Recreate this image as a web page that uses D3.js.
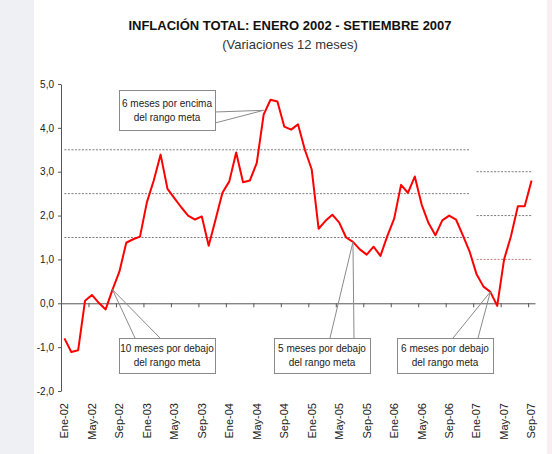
<!DOCTYPE html>
<html>
<head>
<meta charset="utf-8">
<script src="https://cdn.jsdelivr.net/npm/d3@7"></script>
<style>
  body { margin: 0; background: #f2f3f6; }
  svg { display: block; font-family: "Liberation Sans", Arial, sans-serif; }
</style>
</head>
<body>
<div class="visHolder"></div>
<script>
// Data: inflation (12-month change), Jan 2002 - Sep 2007
const monthNames = ["Ene", "Feb", "Mar", "Abr", "May", "Jun", "Jul", "Ago", "Sep", "Oct", "Nov", "Dic"];
const years = ["02", "03", "04", "05", "06", "07"];
const inflation = [
  -0.80, -1.11, -1.07, 0.06, 0.19, 0.01, -0.14, 0.31, 0.72, 1.38, 1.46, 1.52,
  2.30, 2.80, 3.39, 2.61, 2.40, 2.19, 2.00, 1.91, 1.98, 1.31, 1.91, 2.52,
  2.78, 3.44, 2.76, 2.80, 3.20, 4.30, 4.64, 4.60, 4.03, 3.96, 4.08, 3.50,
  3.05, 1.70, 1.88, 2.02, 1.84, 1.50, 1.40, 1.23, 1.11, 1.29, 1.08, 1.53,
  1.93, 2.70, 2.52, 2.89, 2.25, 1.83, 1.55, 1.89, 2.00, 1.91, 1.55, 1.17,
  0.66, 0.38, 0.26, -0.06, 1.00, 1.53, 2.21, 2.21, 2.80
];
const tickLabels = ["Ene-02", "May-02", "Sep-02", "Ene-03", "May-03", "Sep-03", "Ene-04", "May-04",
  "Sep-04", "Ene-05", "May-05", "Sep-05", "Ene-06", "May-06", "Sep-06", "Ene-07", "May-07", "Sep-07"];
const yTicks = [-2, -1, 0, 1, 2, 3, 4, 5];

// Target range lines (lower, center, upper)
const target1 = { from: "Ene-02", to: "Dic-06", levels: [1.5, 2.5, 3.5] };
const target2 = { from: "Ene-07", to: "Sep-07", levels: [1.0, 2.0, 3.0] };

// Callouts: text and the month they point to
const notes = [
  { lines: ["6 meses por encima", "del rango meta"], month: "Jun-04", value: 4.4 },
  { lines: ["10 meses por debajo", "del rango meta"], month: "Ago-02", value: 0.31 },
  { lines: ["5 meses por debajo", "del rango meta"], month: "Jul-05", value: 1.40 },
  { lines: ["6 meses por debajo", "del rango meta"], month: "Mar-07", value: 0.26 }
];

const months = [];
years.forEach((y) => monthNames.forEach((m) => months.push(`${m}-${y}`)));
months.splice(inflation.length);

const width = 552;
const height = 454;

const svg = d3
  .select(".visHolder")
  .append("svg")
  .attr("width", width)
  .attr("height", height);

// Background: pale strips on the sides, white panel
svg.append("rect").attr("width", width).attr("height", height).attr("fill", "#eef0f3");
svg.append("rect").attr("x", 546).attr("width", 6).attr("height", height).attr("fill", "#fbeef0");
svg.append("rect").attr("x", 34).attr("y", 0).attr("width", 513).attr("height", height).attr("fill", "#ffffff");

// Scales
const x = d3.scaleBand().domain(months).range([61, 535]).padding(0);
const xIdx = d3.scaleLinear().domain([0, months.length]).range([61, 535]);
const y = d3.scaleLinear().domain([-2, 5]).range([391, 84]);
const cx = (m) => x(m) + x.bandwidth() / 2;

// Titles
svg
  .append("text")
  .attr("x", 290)
  .attr("y", 30)
  .attr("text-anchor", "middle")
  .style("font-size", "13px")
  .style("font-weight", "bold")
  .attr("fill", "#111")
  .text("INFLACIÓN TOTAL: ENERO 2002 - SETIEMBRE 2007");

svg
  .append("text")
  .attr("x", 290)
  .attr("y", 49)
  .attr("text-anchor", "middle")
  .style("font-size", "13px")
  .attr("fill", "#333")
  .text("(Variaciones 12 meses)");

// Target range dotted lines
function drawTarget(t) {
  const span = months.slice(months.indexOf(t.from), months.indexOf(t.to) + 1);
  t.levels.forEach((lv, k) => {
    const line = d3.line().x((m) => cx(m)).y(() => y(lv));
    svg
      .append("path")
      .datum(span)
      .attr("d", line)
      .attr("fill", "none")
      .attr("stroke", t === target2 && k === 0 ? "#c98080" : "#7a7a7a")
      .attr("stroke-width", 1)
      .attr("stroke-dasharray", "2,1.5");
  });
}
drawTarget(target1);
drawTarget(target2);

// Y axis
const yAxis = svg
  .append("g")
  .attr("transform", "translate(61,0)")
  .call(
    d3.axisLeft(y)
      .tickValues(yTicks)
      .tickSize(3)
      .tickSizeOuter(0)
      .tickFormat((d) => d.toFixed(1).replace(".", ","))
  );
yAxis.select(".domain").attr("stroke", "#555");
yAxis.selectAll(".tick line").attr("stroke", "#555");
yAxis.selectAll("text").attr("fill", "#222").style("font-size", "10px").attr("x", -7);

// X axis line at zero with ticks between categories
const xAxis = svg
  .append("g")
  .attr("transform", `translate(0,${y(0)})`)
  .call(
    d3.axisBottom(xIdx)
      .tickValues(d3.range(4, months.length, 4))
      .tickSize(4)
      .tickSizeOuter(0)
      .tickFormat("")
  );
xAxis.select(".domain").attr("stroke", "#555");
xAxis.selectAll(".tick line").attr("stroke", "#555");

// Month labels at the bottom
const xLabels = svg
  .append("g")
  .attr("transform", "translate(0,400)")
  .call(d3.axisBottom(x).tickValues(tickLabels).tickSize(0));
xLabels.select(".domain").remove();
xLabels
  .selectAll("text")
  .attr("transform", "rotate(-90)")
  .attr("x", -3)
  .attr("y", 0)
  .attr("dy", "0.35em")
  .attr("text-anchor", "end")
  .attr("fill", "#222")
  .style("font-size", "11px");

// Inflation line
const line = d3
  .line()
  .x((d, i) => cx(months[i]))
  .y((d) => y(d));

svg
  .append("path")
  .datum(inflation)
  .attr("d", line)
  .attr("fill", "none")
  .attr("stroke", "#ff0000")
  .attr("stroke-width", 2)
  .attr("stroke-linejoin", "round");

// Callout boxes (box rect and the two base points of the pointer)
const boxes = [
  { x: 119, y: 90, w: 96, h: 40, base: [[215, 112], [215, 123]] },
  { x: 119, y: 338, w: 96, h: 35, base: [[135, 338], [160, 338]] },
  { x: 274, y: 338, w: 96, h: 35, base: [[330, 338], [354, 338]] },
  { x: 397, y: 338, w: 96, h: 35, base: [[453, 338], [478, 338]] }
];

notes.forEach((n, i) => {
  const b = boxes[i];
  const tip = [cx(n.month), y(n.value)];
  b.base.forEach((p) => {
    svg
      .append("line")
      .attr("x1", p[0])
      .attr("y1", p[1])
      .attr("x2", tip[0])
      .attr("y2", tip[1])
      .attr("stroke", "#8a8a8a")
      .attr("stroke-width", 1);
  });
  svg
    .append("rect")
    .attr("x", b.x + 0.5)
    .attr("y", b.y + 0.5)
    .attr("width", b.w)
    .attr("height", b.h)
    .attr("fill", "#fff")
    .attr("stroke", "#8a8a8a");
  const mid = b.y + b.h / 2;
  n.lines.forEach((t, k) => {
    svg
      .append("text")
      .attr("x", b.x + b.w / 2)
      .attr("y", mid + (k === 0 ? -7 : 7))
      .attr("dy", "0.35em")
      .attr("text-anchor", "middle")
      .attr("fill", "#222")
      .style("font-size", "10px")
      .text(t);
  });
});
</script>
</body>
</html>
